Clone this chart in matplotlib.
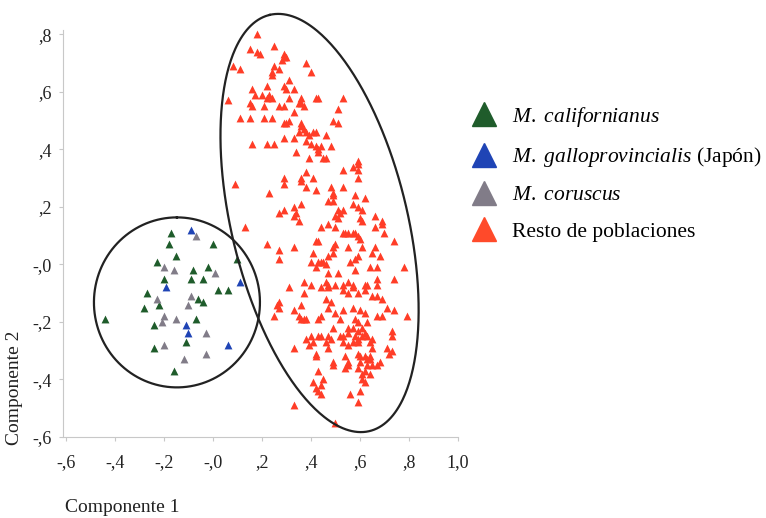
import numpy as np
import matplotlib
matplotlib.use("Agg")
import matplotlib.pyplot as plt
from matplotlib.lines import Line2D

plt.rcParams["font.family"] = ["Liberation Serif", "DejaVu Serif"]
plt.rcParams["mathtext.fontset"] = "custom"
plt.rcParams["mathtext.rm"] = "Liberation Serif"
plt.rcParams["mathtext.it"] = "Liberation Serif:italic"

# valores (componente 1, componente 2)
californianus_x = [-0.17, -0.18, 0.00, -0.15, -0.23, 0.10, -0.08, -0.02, -0.09, -0.04, -0.20, -0.27,
                   -0.22, -0.28, -0.06, -0.04, 0.02, 0.06, -0.44, -0.24, -0.07, -0.24, -0.11, -0.16]
californianus_y = [0.11, 0.07, 0.07, 0.03, 0.01, 0.02, -0.02, -0.01, -0.05, -0.05, -0.05, -0.10,
                   -0.14, -0.15, -0.12, -0.13, -0.09, -0.09, -0.19, -0.21, -0.19, -0.29, -0.27, -0.37]

japon_x = [-0.09, -0.19, 0.11, -0.11, -0.10, 0.06]
japon_y = [0.12, -0.08, -0.06, -0.21, -0.24, -0.28]

coruscus_x = [-0.07, -0.20, -0.16, 0.01, -0.23, -0.09, -0.10, -0.20, -0.21, -0.15, -0.03, -0.20, -0.12, -0.03]
coruscus_y = [0.10, -0.01, -0.02, -0.03, -0.12, -0.11, -0.14, -0.18, -0.20, -0.19, -0.24, -0.28, -0.33, -0.31]

resto_x = [
    0.18, 0.15, 0.18, 0.19, 0.25, 0.29, 0.29, 0.30, 0.28, 0.08, 0.11, 0.25, 0.27, 0.24, 0.38, 0.40,
    0.24, 0.31, 0.29, 0.30, 0.22, 0.33, 0.16, 0.17, 0.20, 0.23, 0.22, 0.24, 0.31, 0.42, 0.36, 0.36,
    0.37, 0.35, 0.06, 0.15, 0.16, 0.21, 0.27, 0.29, 0.33, 0.11, 0.15, 0.21, 0.24, 0.30, 0.31, 0.29,
    0.36, 0.36, 0.37, 0.35, 0.38, 0.39, 0.41, 0.29, 0.33, 0.38, 0.40, 0.16, 0.22, 0.25, 0.42, 0.34,
    0.39, 0.43,
    0.43, 0.53, 0.51, 0.49, 0.51, 0.46, 0.42, 0.44, 0.48, 0.43, 0.46, 0.59,
    0.09, 0.29, 0.29, 0.36, 0.38, 0.36, 0.38, 0.41, 0.42, 0.23, 0.27, 0.29, 0.33, 0.36, 0.33, 0.34,
    0.35, 0.13, 0.22, 0.27, 0.27, 0.33, 0.42, 0.41, 0.40, 0.42, 0.43, 0.37, 0.40, 0.31,
    0.45, 0.53, 0.57, 0.59, 0.59, 0.59, 0.48, 0.49, 0.49, 0.53, 0.58, 0.62, 0.47, 0.49, 0.57, 0.59,
    0.61, 0.51, 0.51, 0.50, 0.52, 0.53, 0.66, 0.60, 0.61, 0.69, 0.69, 0.66, 0.47, 0.44, 0.50, 0.54,
    0.55, 0.57, 0.58, 0.59, 0.53, 0.70, 0.60, 0.43, 0.74, 0.50, 0.49, 0.55, 0.61, 0.66, 0.65, 0.68,
    0.49, 0.47, 0.59, 0.58, 0.56, 0.45, 0.46, 0.44, 0.64, 0.67, 0.78, 0.58, 0.51, 0.47, 0.74, 0.67,
    0.47, 0.46, 0.53, 0.55, 0.57, 0.62, 0.63, 0.67,
    0.37, 0.27, 0.26, 0.27, 0.33, 0.36, 0.35, 0.36, 0.37, 0.38, 0.25, 0.38, 0.40, 0.39, 0.41, 0.43,
    0.33, 0.42, 0.41, 0.42, 0.43, 0.33,
    0.44, 0.47, 0.50, 0.53, 0.55, 0.57, 0.59, 0.62, 0.65, 0.67, 0.69, 0.46, 0.48, 0.47, 0.71, 0.74,
    0.53, 0.57, 0.60, 0.62, 0.50, 0.52, 0.67, 0.69, 0.79, 0.44, 0.43, 0.58, 0.59, 0.63, 0.55, 0.57,
    0.59, 0.61, 0.62, 0.63, 0.65, 0.52, 0.53, 0.55, 0.58, 0.59, 0.61, 0.44, 0.49, 0.47, 0.48, 0.73,
    0.73, 0.53, 0.55, 0.57, 0.59, 0.64, 0.65, 0.47, 0.46, 0.71, 0.72, 0.73, 0.42, 0.59, 0.60, 0.62,
    0.64, 0.63, 0.54, 0.49, 0.49, 0.55, 0.55, 0.54, 0.60, 0.59, 0.61, 0.64, 0.63, 0.65, 0.68, 0.67,
    0.62, 0.64, 0.43, 0.45, 0.44, 0.44, 0.61, 0.62, 0.56, 0.60, 0.59, 0.50,
]
resto_y = [
    0.80, 0.75, 0.74, 0.73, 0.76, 0.73, 0.72, 0.72, 0.71, 0.69, 0.68, 0.69, 0.68, 0.67, 0.70, 0.67,
    0.66, 0.64, 0.62, 0.61, 0.62, 0.61, 0.61, 0.59, 0.59, 0.59, 0.58, 0.58, 0.58, 0.58, 0.58, 0.56,
    0.55, 0.56, 0.57, 0.56, 0.55, 0.55, 0.55, 0.55, 0.53, 0.51, 0.51, 0.51, 0.51, 0.49, 0.50, 0.49,
    0.49, 0.48, 0.47, 0.46, 0.46, 0.45, 0.46, 0.44, 0.44, 0.43, 0.42, 0.42, 0.42, 0.42, 0.41, 0.39,
    0.37, 0.40,
    0.58, 0.58, 0.54, 0.50, 0.49, 0.45, 0.46, 0.41, 0.41, 0.39, 0.37, 0.36,
    0.28, 0.30, 0.28, 0.30, 0.32, 0.29, 0.27, 0.30, 0.26, 0.25, 0.18, 0.19, 0.20, 0.21, 0.17, 0.18,
    0.15, 0.13, 0.07, 0.05, 0.02, 0.06, 0.08, 0.04, 0.01, -0.01, 0.01, -0.06, -0.07, -0.08,
    0.37, 0.33, 0.34, 0.35, 0.33, 0.30, 0.27, 0.25, 0.24, 0.27, 0.24, 0.23, 0.22, 0.22, 0.21, 0.20,
    0.19, 0.19, 0.16, 0.17, 0.18, 0.19, 0.17, 0.16, 0.15, 0.15, 0.14, 0.13, 0.14, 0.13, 0.13, 0.11,
    0.11, 0.11, 0.11, 0.10, 0.11, 0.11, 0.09, 0.08, 0.08, 0.07, 0.06, 0.06, 0.06, 0.06, 0.04, 0.03,
    0.04, 0.03, 0.03, 0.02, 0.01, 0.01, 0.00, 0.01, -0.01, -0.01, -0.01, -0.02, -0.03, -0.03, -0.05, -0.05,
    -0.07, -0.06, -0.07, -0.06, -0.07, -0.07, -0.07, -0.07,
    -0.10, -0.13, -0.14, -0.15, -0.16, -0.14, -0.18, -0.19, -0.19, -0.19, -0.18, -0.26, -0.25, -0.28, -0.27, -0.25,
    -0.29, -0.32, -0.41, -0.43, -0.44, -0.49,
    -0.08, -0.08, -0.07, -0.09, -0.10, -0.08, -0.10, -0.09, -0.11, -0.11, -0.12, -0.12, -0.13, -0.15, -0.15, -0.16,
    -0.16, -0.15, -0.16, -0.17, -0.17, -0.19, -0.18, -0.18, -0.18, -0.18, -0.19, -0.19, -0.20, -0.20, -0.22, -0.22,
    -0.23, -0.22, -0.24, -0.25, -0.26, -0.25, -0.25, -0.24, -0.25, -0.26, -0.25, -0.25, -0.22, -0.25, -0.26, -0.23,
    -0.25, -0.27, -0.28, -0.27, -0.27, -0.27, -0.29, -0.29, -0.27, -0.29, -0.31, -0.30, -0.31, -0.31, -0.32, -0.32,
    -0.32, -0.33, -0.32, -0.34, -0.35, -0.34, -0.35, -0.36, -0.34, -0.36, -0.38, -0.33, -0.35, -0.35, -0.34, -0.35,
    -0.37, -0.38, -0.37, -0.40, -0.42, -0.45, -0.40, -0.41, -0.45, -0.44, -0.48, -0.55,
]

x_ticks = [-0.6, -0.4, -0.2, 0.0, 0.2, 0.4, 0.6, 0.8, 1.0]
x_labels = ["-,6", "-,4", "-,2", "-,0", ",2", ",4", ",6", ",8", "1,0"]
y_ticks = [-0.6, -0.4, -0.2, 0.0, 0.2, 0.4, 0.6, 0.8]
y_labels = ["-,6", "-,4", "-,2", "-,0", ",2", ",4", ",6", ",8"]

# elipses dibujadas a mano (centro en datos, semiejes en pixeles, inclinacion en grados)
grupo1 = dict(cx=-0.147, cy=-0.132, a=85, b=83, ang=0)
grupo2 = dict(cx=0.435, cy=0.144, a=214, b=88, ang=13.5)

colors = {"cal": "#1f5c2b", "jap": "#1f44b5", "cor": "#817c88", "resto": "#ff3d27"}

fig = plt.figure(figsize=(7.66, 5.18), dpi=100)
ax = fig.add_axes([63 / 766, 81 / 518, 395 / 766, 407 / 518])
ax.set_xlim(-0.612, 1.0)
ax.set_ylim(-0.6, 0.815)

ax.scatter(resto_x, resto_y, marker="^", s=32, color=colors["resto"], linewidths=0, zorder=3)
ax.scatter(californianus_x, californianus_y, marker="^", s=32, color=colors["cal"], linewidths=0, zorder=3)
ax.scatter(coruscus_x, coruscus_y, marker="^", s=32, color=colors["cor"], linewidths=0, zorder=3)
ax.scatter(japon_x, japon_y, marker="^", s=32, color=colors["jap"], linewidths=0, zorder=3)


def draw_ellipse(ax, e):
    # px por unidad de datos
    sx = 395 / 1.612
    sy = 407 / 1.415
    t = np.linspace(0, 2 * np.pi, 400)
    phi = np.radians(e["ang"])
    # eje mayor vertical inclinado hacia la izquierda arriba
    dx = -e["a"] * np.cos(t) * np.sin(phi) + e["b"] * np.sin(t) * np.cos(phi)
    dy = e["a"] * np.cos(t) * np.cos(phi) + e["b"] * np.sin(t) * np.sin(phi)
    ax.plot(e["cx"] + dx / sx, e["cy"] + dy / sy, color="#222222", lw=1.6, zorder=4,
            clip_on=False)


draw_ellipse(ax, grupo1)
draw_ellipse(ax, grupo2)

for side in ["top", "right"]:
    ax.spines[side].set_visible(False)
for side in ["left", "bottom"]:
    ax.spines[side].set_color("#c8c8c8")
    ax.spines[side].set_linewidth(0.8)

ax.set_xticks(x_ticks)
ax.set_xticklabels(x_labels)
ax.set_yticks(y_ticks)
ax.set_yticklabels(y_labels)
ax.tick_params(axis="both", colors="#c8c8c8", labelcolor="#222222", length=3, labelsize=13)
ax.tick_params(axis="x", pad=9)
ax.tick_params(axis="y", pad=5)

fig.text(15 / 766, 1 - 388 / 518, "Componente 2", rotation=90, ha="center", va="center",
         fontsize=14, color="#222222")
fig.text(65 / 766, 1 - 507 / 518, "Componente 1", ha="left", va="center",
         fontsize=14, color="#222222")

handles = [
    Line2D([], [], marker="^", ls="none", markersize=17, color=colors["cal"]),
    Line2D([], [], marker="^", ls="none", markersize=17, color=colors["jap"]),
    Line2D([], [], marker="^", ls="none", markersize=17, color=colors["cor"]),
    Line2D([], [], marker="^", ls="none", markersize=17, color="#ff4a2a"),
]
labels = [
    r"$\mathit{M.\ californianus}$",
    r"$\mathit{M.\ galloprovincialis}$ (Japón)",
    r"$\mathit{M.\ coruscus}$",
    "Resto de poblaciones",
]
fig.legend(handles, labels, loc="upper left", bbox_to_anchor=(472 / 766, 1 - 105 / 518),
           frameon=False, fontsize=15.5, handlelength=1.1, handletextpad=0.75,
           labelspacing=0.75, borderaxespad=0, borderpad=0)

fig.savefig("out.png", dpi=100)
